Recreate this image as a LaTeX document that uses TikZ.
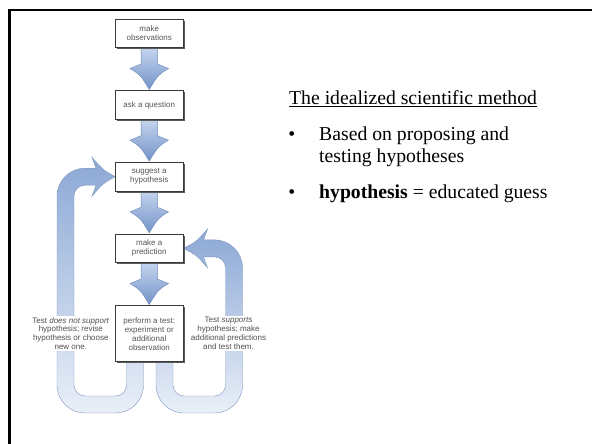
\documentclass[tikz,border=0pt]{standalone}
\usepackage{fontspec}
\setmainfont{Liberation Serif}
\newfontfamily\diagfont{Liberation Sans}
\usetikzlibrary{shadows,calc}
\definecolor{boxline}{HTML}{3A3A3A}
\definecolor{boxtext}{HTML}{555555}
\definecolor{sidetext}{HTML}{505050}
\definecolor{shadowgray}{HTML}{5A5A5A}
\definecolor{arrowlight}{HTML}{C8D7EF}
\definecolor{arrowdark}{HTML}{7393C8}
\definecolor{arrowedge}{HTML}{6A89BC}
\definecolor{looptop}{HTML}{8BA8D5}
\definecolor{loopbottom}{HTML}{E9EFF8}
\definecolor{loopedge}{HTML}{7F97C0}
\pgfdeclarelayer{bg}
\pgfsetlayers{bg,main}
\tikzset{
  stepbox/.style={draw=boxline, line width=0.6pt, fill=white,
    minimum width=67.5pt, minimum height=28.7pt, inner sep=0pt,
    align=center, font=\diagfont\fontsize{8}{9}\selectfont, text=boxtext,
    drop shadow={shadow xshift=1.6pt, shadow yshift=-1.6pt, fill=shadowgray, opacity=1}},
  sidenote/.style={fill=white, inner sep=1pt, align=center,
    font=\diagfont\fontsize{8}{8.9}\selectfont, text=sidetext},
  flowarrow/.style={top color=arrowlight, bottom color=arrowdark, draw=arrowedge, line width=0.4pt},
  loopband/.style={top color=looptop, bottom color=loopbottom, draw=loopedge, line width=0.4pt},
  slidetext/.style={inner sep=0pt, font=\fontsize{19.7}{22.5}\selectfont},
}
\begin{document}
\begin{tikzpicture}[x=1pt,y=-1pt]
\useasboundingbox (0,0) rectangle (592,444);
\draw[line width=2.3pt] (9.5,444) -- (9.5,9.8) -- (592,9.8);

% boxes
\node[stepbox] (obs) at (149.25,33.35) {make\\observations};
\node[stepbox] (q) at (149.25,105) {ask a question};
\node[stepbox] (hyp) at (149.25,176.65) {suggest a\\hypothesis};
\node[stepbox] (pred) at (149.25,248.35) {make a\\prediction};
\node[stepbox, minimum height=56pt] (test) at (149.25,333.7) {perform a test:\\experiment or\\additional\\observation};

% side notes
\node[sidenote] (nosup) at (70.8,333.5) {Test \textit{does not support}\\hypothesis; revise\\hypothesis or choose\\new one.};
\node[sidenote] (sup) at (228.5,333.5) {Test \textit{supports}\\hypothesis; make\\additional predictions\\and test them.};

\begin{pgfonlayer}{bg}
\foreach \a/\b in {obs/q,q/hyp,hyp/pred,pred/test}{
  \begin{scope}[shift={(\a.south)}]
  \path[flowarrow] (-8.15,-2) -- (-8.15,16) -- (-19.25,20.5)
     .. controls (-8.75,27) .. ([yshift=0.8pt]\b.north)
     .. controls (8.75,27) .. (19.25,20.5) -- (8.15,16) -- (8.15,-2) -- cycle;
  \end{scope}
}
% left loop: test does not support
\path[loopband] (143.5,356) -- (143.5,385) arc[start angle=0,end angle=90,radius=28]
  -- (85,413) arc[start angle=90,end angle=180,radius=28]
  -- (57,196.2) arc[start angle=180,end angle=270,radius=28]
  -- (96,168.2) -- (92,157.3) .. controls (103,170) .. (hyp.west)
  .. controls (103,183.4) .. (92,196.1) -- (96,185.2)
  -- (85,185.2) arc[start angle=270,end angle=180,radius=11]
  -- (74,385) arc[start angle=180,end angle=90,radius=11]
  -- (115.5,396) arc[start angle=90,end angle=0,radius=11]
  -- (126.5,356) -- cycle;
% right loop: test supports
\path[loopband] (156,356) -- (156,385) arc[start angle=180,end angle=90,radius=28]
  -- (214.5,413) arc[start angle=90,end angle=0,radius=28]
  -- (242.5,267.9) arc[start angle=0,end angle=-90,radius=28]
  -- (203.5,239.9) -- (207.5,229) .. controls (196.5,241.7) .. (pred.east)
  .. controls (196.5,255.1) .. (207.5,267.8) -- (203.5,256.9)
  -- (214.5,256.9) arc[start angle=-90,end angle=0,radius=11]
  -- (225.5,385) arc[start angle=0,end angle=90,radius=11]
  -- (184,396) arc[start angle=90,end angle=180,radius=11]
  -- (173,356) -- cycle;
\end{pgfonlayer}

% slide text
\node[slidetext, anchor=base west] (title) at (289,105) {The idealized scientific method};
\draw[line width=0.9pt] ([yshift=-1.9pt]title.base west) -- ([yshift=-1.9pt]title.base east);
\node[slidetext, anchor=base] (dot1) at (291.8,140) {•};
\node[slidetext, anchor=base west] (b1a) at (319,140) {Based on proposing and};
\node[slidetext, anchor=base west] (b1b) at (319,162.5) {testing hypotheses};
\node[slidetext, anchor=base] (dot2) at (291.8,198.5) {•};
\node[slidetext, anchor=base west] (b2) at (319,198.5) {\textbf{hypothesis} = educated guess};
\end{tikzpicture}
\end{document}
